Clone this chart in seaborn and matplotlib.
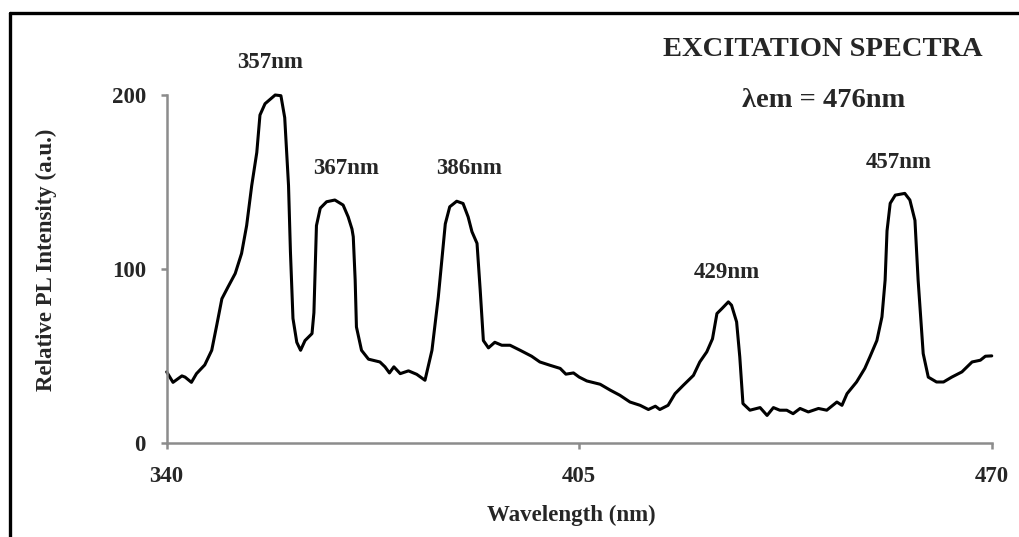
import matplotlib
matplotlib.use("Agg")
import matplotlib.pyplot as plt
from matplotlib.lines import Line2D
import seaborn as sns
import pandas as pd

# ---- data ----
wavelength = [340.0, 341.0, 342.4, 342.9, 343.9, 344.7, 346.0, 347.1, 347.9, 348.7,
              349.7, 350.8, 351.8, 352.6, 353.4, 354.2, 354.7, 355.5, 357.1, 358.0,
              358.6, 359.2, 359.5, 359.9, 360.5, 361.1, 361.8, 362.9, 363.2, 363.6,
              364.2, 365.2, 366.5, 367.8, 368.6, 369.2, 369.4, 369.7, 369.9, 370.7,
              371.8, 373.6, 374.4, 375.1, 375.8, 376.8, 378.1, 379.4, 380.7, 381.8,
              382.8, 383.9, 384.6, 385.7, 386.7, 387.5, 388.1, 388.9, 389.4, 389.9,
              390.7, 391.7, 392.8, 394.1, 395.7, 397.5, 398.8, 400.4, 402.0, 402.9,
              404.1, 405.0, 406.2, 408.3, 409.9, 411.4, 413.0, 414.6, 415.9, 417.0,
              417.7, 419.0, 420.1, 421.4, 423.0, 424.0, 425.1, 426.0, 426.7, 427.5,
              428.5, 429.0, 429.8, 430.3, 430.8, 431.9, 433.5, 434.6, 435.6, 436.6,
              437.7, 438.7, 439.8, 441.1, 442.7, 444.0, 445.6, 446.4, 447.2, 448.7,
              450.0, 450.8, 451.9, 452.7, 453.2, 453.5, 454.0, 454.8, 456.3, 457.1,
              457.9, 458.4, 459.2, 460.0, 461.3, 462.4, 463.7, 465.3, 466.9, 468.2,
              469.0, 470.0]
intensity = [41.0, 35.0, 38.7, 38.0, 35.0, 40.0, 45.0, 53.4, 68.0, 83.0,
             90.0, 97.5, 109.0, 125.0, 148.0, 167.0, 188.5, 195.0, 200.0, 199.6,
             187.0, 148.0, 110.0, 71.7, 58.0, 53.4, 59.0, 63.0, 75.0, 125.0,
             135.0, 138.7, 139.7, 136.8, 130.0, 123.0, 118.6, 93.7, 66.8, 53.4,
             48.3, 46.7, 43.9, 40.4, 43.9, 40.0, 41.6, 39.6, 36.2, 53.4,
             84.0, 126.0, 135.8, 139.0, 137.7, 130.0, 121.5, 114.8, 88.0, 59.0,
             54.8, 58.0, 56.3, 56.3, 53.4, 50.0, 46.7, 44.8, 43.0, 39.7,
             40.4, 38.0, 35.8, 33.9, 30.5, 27.6, 23.7, 21.8, 19.4, 21.3,
             19.4, 21.8, 28.5, 33.3, 39.0, 46.7, 52.5, 60.0, 74.5, 77.4,
             81.2, 79.3, 69.7, 49.6, 22.8, 19.0, 20.5, 16.0, 20.5, 19.0,
             19.0, 17.0, 20.0, 18.0, 20.0, 19.0, 23.7, 21.8, 28.5, 35.2,
             43.0, 49.6, 59.0, 72.6, 93.7, 122.0, 137.8, 142.5, 143.5, 139.7,
             128.0, 93.7, 51.5, 38.0, 35.2, 35.2, 38.0, 41.0, 46.7, 47.7,
             50.0, 50.2]

peak_labels = ["357nm", "367nm", "386nm", "429nm", "457nm"]
label_x = [356.3, 368.3, 387.6, 428.3, 455.4]
label_y = [218.5, 158.0, 158.0, 98.0, 161.5]

x_ticks = [340, 405, 470]
y_ticks = [0, 100, 200]

title_text = "EXCITATION SPECTRA"
subtitle_text = "\u03bbem = 476nm"
x_label = "Wavelength (nm)"
y_label = "Relative PL Intensity (a.u.)"

df = pd.DataFrame({"wavelength": wavelength, "intensity": intensity})

# ---- style ----
sns.set_style("white")
plt.rcParams["font.family"] = ["Liberation Serif", "DejaVu Serif"]
plt.rcParams["font.weight"] = "bold"

fig = plt.figure(figsize=(10.2, 5.37), dpi=100)
ax = fig.add_axes([0.1634, 0.1745, 0.8089, 0.6486])

sns.lineplot(data=df, x="wavelength", y="intensity", ax=ax, color="black",
             linewidth=2.2, sort=False, estimator=None)
for ln in ax.lines:
    ln.set_clip_on(False)
    ln.set_solid_joinstyle("round")

ax.set_xlim(340, 470)
ax.set_ylim(0, 200)
ax.set_xticks(x_ticks)
ax.set_yticks(y_ticks)
ax.set_xticklabels([str(v) for v in x_ticks], fontsize=16.5, fontweight="bold")
ax.set_yticklabels([str(v) for v in y_ticks], fontsize=16.5, fontweight="bold")

gray = "#8c8c8c"
for s in ["top", "right"]:
    ax.spines[s].set_visible(False)
for s in ["left", "bottom"]:
    ax.spines[s].set_color(gray)
    ax.spines[s].set_linewidth(1.8)
ax.tick_params(axis="both", direction="out", length=4, width=1.8, color=gray,
               left=True, bottom=True)
ax.tick_params(axis="y", pad=11)
ax.tick_params(axis="x", pad=12)

ax.set_xlabel(x_label, fontsize=16.5, fontweight="bold")
ax.set_ylabel(y_label, fontsize=16.5, fontweight="bold")
ax.xaxis.set_label_coords(0.490, -0.206)
ax.xaxis.label.set_va("center")
ax.yaxis.set_label_coords(-0.1455, 0.527)
ax.yaxis.label.set_va("center")

for t, lx, ly in zip(peak_labels, label_x, label_y):
    ax.text(lx, ly, t, ha="center", va="center", fontsize=16.5,
            fontweight="bold", clip_on=False)

fig.text(0.8065, 0.908, title_text, ha="center", va="center",
         fontsize=20.5, fontweight="bold")
fig.text(0.807, 0.813, subtitle_text, ha="center", va="center",
         fontsize=20.5, fontweight="bold")

# outer frame (left and top edges visible)
fig.add_artist(Line2D([0.0095, 0.0095], [-0.01, 0.9755], transform=fig.transFigure,
                      color="black", linewidth=2.4))
fig.add_artist(Line2D([0.0095, 1.01], [0.9755, 0.9755], transform=fig.transFigure,
                      color="black", linewidth=2.4))

fig.savefig("out.png", dpi=100)
